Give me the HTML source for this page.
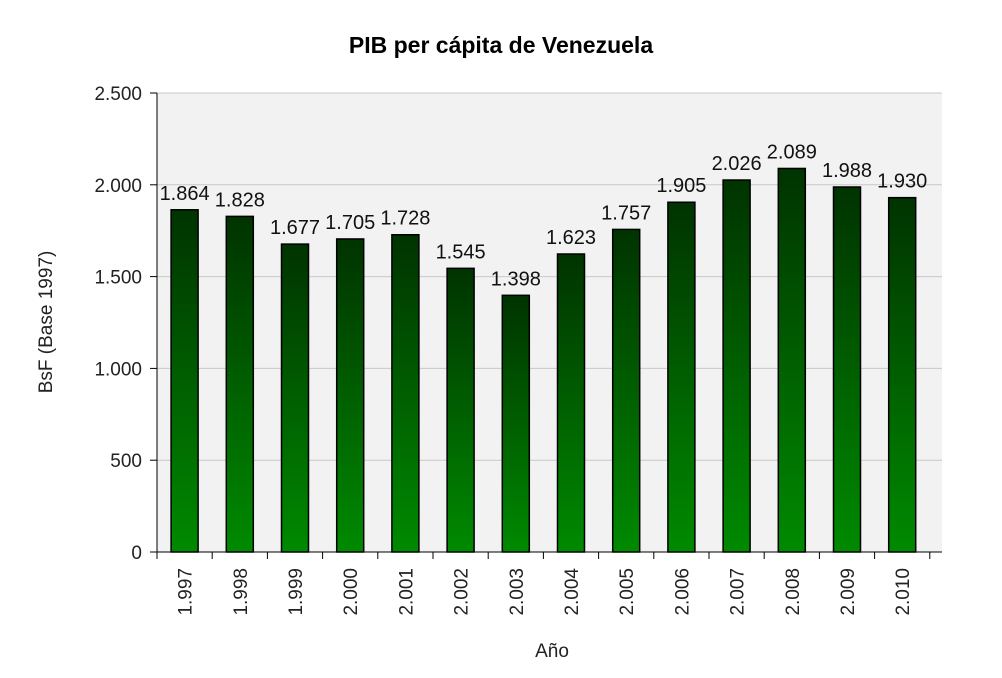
<!DOCTYPE html>
<html><head><meta charset="utf-8"><style>
body{margin:0;background:#fff;font-family:"Liberation Sans",sans-serif}
</style></head><body>
<svg width="1002" height="673" xmlns="http://www.w3.org/2000/svg">
<defs><linearGradient id="g" x1="0" y1="0" x2="0" y2="1"><stop offset="0" stop-color="#003300"/><stop offset="1" stop-color="#008a00"/></linearGradient></defs>
<text x="501" y="53" text-anchor="middle" font-size="23" font-weight="bold">PIB per cápita de Venezuela</text>
<rect x="157" y="93" width="785" height="459" fill="#f2f2f2"/>
<g id="grid"></g><g id="bars"></g><g id="axes"></g>
<text transform="translate(52,322) rotate(-90)" text-anchor="middle" font-size="19" fill="#222">BsF (Base 1997)</text>
<text x="552" y="657" text-anchor="middle" font-size="19" fill="#222">Año</text>
</svg>
<script>
const categories=["1.997","1.998","1.999","2.000","2.001","2.002","2.003","2.004","2.005","2.006","2.007","2.008","2.009","2.010"];
const values=[1864,1828,1677,1705,1728,1545,1398,1623,1757,1905,2026,2089,1988,1930];
const valueLabels=["1.864","1.828","1.677","1.705","1.728","1.545","1.398","1.623","1.757","1.905","2.026","2.089","1.988","1.930"];
const yTicks=[0,500,1000,1500,2000,2500];
const yTickLabels=["0","500","1.000","1.500","2.000","2.500"];
const NS="http://www.w3.org/2000/svg";
const x0=157,step=55.2,yZero=552,yTop=93,yMax=2500;
const y=v=>yZero-(v/yMax)*(yZero-yTop);
const xc=i=>x0+step*(i+0.5);
function mk(t,a,p){const e=document.createElementNS(NS,t);for(const k in a)e.setAttribute(k,a[k]);p.appendChild(e);return e;}
const grid=document.getElementById('grid'),bars=document.getElementById('bars'),axes=document.getElementById('axes');
yTicks.forEach((v,i)=>{
 if(v>0){const l=mk('line',{x1:x0,x2:942,y1:y(v),y2:y(v),stroke:'#c8c8c8','stroke-width':1},grid);
 
 }
 const t=mk('line',{x1:x0-7,x2:x0,y1:y(v),y2:y(v),stroke:'#000'},axes);
 
 
 const tx=mk('text',{x:x0-15,y:y(v)+7,'text-anchor':'end','font-size':19,fill:'#222'},axes);
 tx.textContent=yTickLabels[i];
 
 
});
values.forEach((v,i)=>{
 const r=mk('rect',{x:xc(i)-13.5,y:y(v),width:27,height:yZero-y(v),fill:'url(#g)',stroke:'#000','stroke-width':1.5},bars);
 
 
 const t=mk('text',{x:xc(i),y:y(v)-10,'text-anchor':'middle','font-size':20,fill:'#111'},bars);
 t.textContent=valueLabels[i];
 
 
 const tx=mk('text',{transform:`translate(${xc(i)+7},568) rotate(-90)`,'text-anchor':'end','font-size':19,fill:'#222'},axes);
 tx.textContent=categories[i];
 
 
});
for(let i=0;i<=categories.length;i++){
 const t=mk('line',{x1:x0+step*i,x2:x0+step*i,y1:yZero,y2:yZero+7,stroke:'#000'},axes);
 
 
}
const ya=mk('line',{x1:x0,x2:x0,y1:yTop,y2:yZero,stroke:'#000'},axes);


const xa=mk('line',{x1:x0-7,x2:942,y1:yZero,y2:yZero,stroke:'#000'},axes);


</script>
</body></html>
